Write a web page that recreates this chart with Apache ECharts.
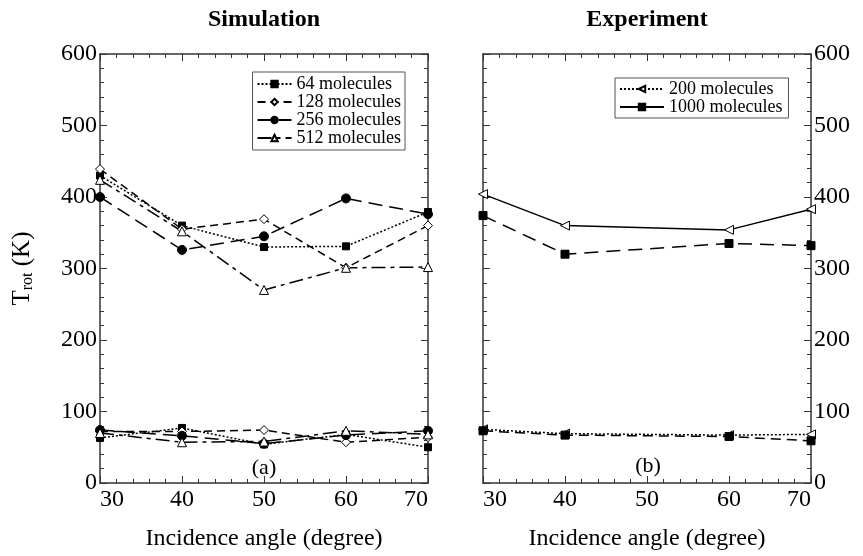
<!DOCTYPE html>
<html>
<head>
<meta charset="utf-8">
<script src="https://cdn.jsdelivr.net/npm/echarts@6/dist/echarts.min.js"></script>
<style>html,body{margin:0;padding:0;background:#fff}#c{width:863px;height:556px}</style>
</head>
<body>
<div id="c"></div>
<script>
// ---- data ----
var simAngles = [30, 40, 50, 60, 70];
var expAngles = [30, 40, 60, 70];
var yTicks = [0, 100, 200, 300, 400, 500, 600];
var xTicks = [30, 40, 50, 60, 70];

var sim64High  = [430, 360, 330, 331, 379];
var sim128High = [439, 355, 369, 301, 360];
var sim256High = [400, 326, 345, 398, 376];
var sim512High = [424, 352, 270, 301, 302];

var sim64Low  = [63, 77, 54, 68, 50];
var sim128Low = [72, 72, 74, 57, 64];
var sim256Low = [74, 66, 55, 67, 73];
var sim512Low = [70, 57, 58, 73, 68];

var exp200High  = [404, 360, 354, 383];
var exp1000High = [374, 320, 335, 332];
var exp200Low   = [75, 69, 67, 68];
var exp1000Low  = [73, 67, 65, 59];

var names = ['64 molecules', '128 molecules', '256 molecules', '512 molecules', '200 molecules', '1000 molecules'];

function pts(xs, ys) { return xs.map(function (x, i) { return [x, ys[i]]; }); }

var FONT = 'Liberation Serif';
var AX = '#333';

function xAxisDef(gi, pos, labels) {
  return {
    type: 'value', gridIndex: gi, position: pos, min: xTicks[0], max: xTicks[xTicks.length - 1], interval: 10,
    axisLine: { show: true, onZero: false, lineStyle: { color: AX, width: 1.5 } },
    axisTick: { show: true, inside: true, length: 7, lineStyle: { color: AX } },
    minorTick: { show: true, splitNumber: 5, length: 4, lineStyle: { color: AX } },
    splitLine: { show: false },
    axisLabel: labels ? { show: true, fontFamily: FONT, fontSize: 24, color: '#000', margin: 5,
      alignMinLabel: 'left', alignMaxLabel: 'right' } : { show: false },
    name: labels ? 'Incidence angle (degree)' : '',
    nameLocation: 'middle', nameGap: 44,
    nameTextStyle: { fontFamily: FONT, fontSize: 24, color: '#000' }
  };
}
function yAxisDef(gi, pos, labels, withName) {
  var a = {
    type: 'value', gridIndex: gi, position: pos, min: yTicks[0], max: yTicks[yTicks.length - 1], interval: 100,
    axisLine: { show: true, onZero: false, lineStyle: { color: AX, width: 1.5 } },
    axisTick: { show: true, inside: true, length: 7, lineStyle: { color: AX } },
    minorTick: { show: true, splitNumber: 5, length: 4, lineStyle: { color: AX } },
    splitLine: { show: false },
    axisLabel: labels ? { show: true, fontFamily: FONT, fontSize: 24, color: '#000', margin: 3 } : { show: false }
  };
  if (withName) {
    a.name = '{a|T}{b|rot}{a| (K)}';
    a.nameLocation = 'middle';
    a.nameGap = 64;
    a.nameRotate = 90;
    a.nameTextStyle = { rich: {
      a: { fontFamily: FONT, fontSize: 25, color: '#000' },
      b: { fontFamily: FONT, fontSize: 16, color: '#000', padding: [12, 0, 0, 0] }
    } };
  }
  return a;
}

var S = {
  '64':  { symbol: 'rect', size: 7, fill: '#000', dash: [2, 2] },
  '128': { symbol: 'diamond', size: 9, fill: '#fff', dash: [8, 5] },
  '256': { symbol: 'circle', size: 9, fill: '#000', dash: [14, 7] },
  '512': { symbol: 'triangle', size: 9, fill: '#fff', dash: [14, 5, 4, 5] }
};

function line(name, gi, data, sym, size, fill, dash, rot) {
  return {
    type: 'line', name: name, xAxisIndex: gi * 2, yAxisIndex: gi * 2,
    data: data, symbol: sym, symbolSize: size, symbolRotate: rot || 0,
    showAllSymbol: true, animation: false, clip: false,
    lineStyle: { color: '#000', width: 1.5, type: dash },
    itemStyle: { color: fill, borderColor: '#000', borderWidth: 1 },
    emphasis: { disabled: true }
  };
}

var series = [];
[['64', sim64High, sim64Low], ['128', sim128High, sim128Low], ['256', sim256High, sim256Low], ['512', sim512High, sim512Low]]
.forEach(function (r) {
  var s = S[r[0]];
  series.push(line(r[0] + ' molecules', 0, pts(simAngles, r[1]), s.symbol, s.size, s.fill, s.dash));
  series.push(line(r[0] + ' molecules', 0, pts(simAngles, r[2]), s.symbol, s.size, s.fill, s.dash));
});
series.push(line('200 molecules', 1, pts(expAngles, exp200Low), 'triangle', 9, '#fff', [2, 2], 90));
series.push(line('200 molecules', 1, pts(expAngles, exp200High), 'triangle', 9, '#fff', 'solid', 90));
series.push(line('1000 molecules', 1, pts(expAngles, exp1000High), 'rect', 8, '#000', [14, 8]));
series.push(line('1000 molecules', 1, pts(expAngles, exp1000Low), 'rect', 8, '#000', [10, 6]));

var legendText = { fontFamily: FONT, fontSize: 18, color: '#000', lineHeight: 16 };

var option = {
  backgroundColor: '#fff',
  animation: false,
  grid: [
    { left: 100, top: 54, width: 328, height: 438 },
    { left: 483, top: 54, width: 328, height: 438 }
  ],
  xAxis: [
    xAxisDef(0, 'bottom', true), xAxisDef(0, 'top', false),
    xAxisDef(1, 'bottom', true), xAxisDef(1, 'top', false)
  ],
  yAxis: [
    yAxisDef(0, 'left', true, true), yAxisDef(0, 'right', false),
    yAxisDef(1, 'right', true), yAxisDef(1, 'left', false)
  ],
  legend: [
    {
      data: names.slice(0, 4), orient: 'vertical', right: 458, top: 72,
      itemWidth: 34, itemHeight: 8, itemGap: 0, padding: [3, 4, 3, 4],
      borderColor: '#555', borderWidth: 1, textStyle: legendText, selectedMode: false
    },
    {
      data: [names[4], { name: names[5], lineStyle: { type: 'solid' } }],
      orient: 'vertical', left: 615, top: 78,
      itemWidth: 44, itemHeight: 8, itemGap: 0, padding: [2, 6, 2, 4],
      borderColor: '#555', borderWidth: 1, textStyle: legendText, selectedMode: false
    }
  ],
  graphic: [
    { type: 'text', x: 264, y: 20, style: { text: 'Simulation', font: 'bold 24px "Liberation Serif"', fill: '#000', align: 'center', verticalAlign: 'middle' } },
    { type: 'text', x: 647, y: 20, style: { text: 'Experiment', font: 'bold 24px "Liberation Serif"', fill: '#000', align: 'center', verticalAlign: 'middle' } },
    { type: 'text', x: 264, y: 468, style: { text: '(a)', font: '22px "Liberation Serif"', fill: '#000', align: 'center', verticalAlign: 'middle' } },
    { type: 'text', x: 648, y: 466, style: { text: '(b)', font: '22px "Liberation Serif"', fill: '#000', align: 'center', verticalAlign: 'middle' } }
  ],
  series: series
};

var chart = echarts.init(document.getElementById('c'), null, { renderer: 'canvas' });
chart.setOption(option);
</script>
</body>
</html>
